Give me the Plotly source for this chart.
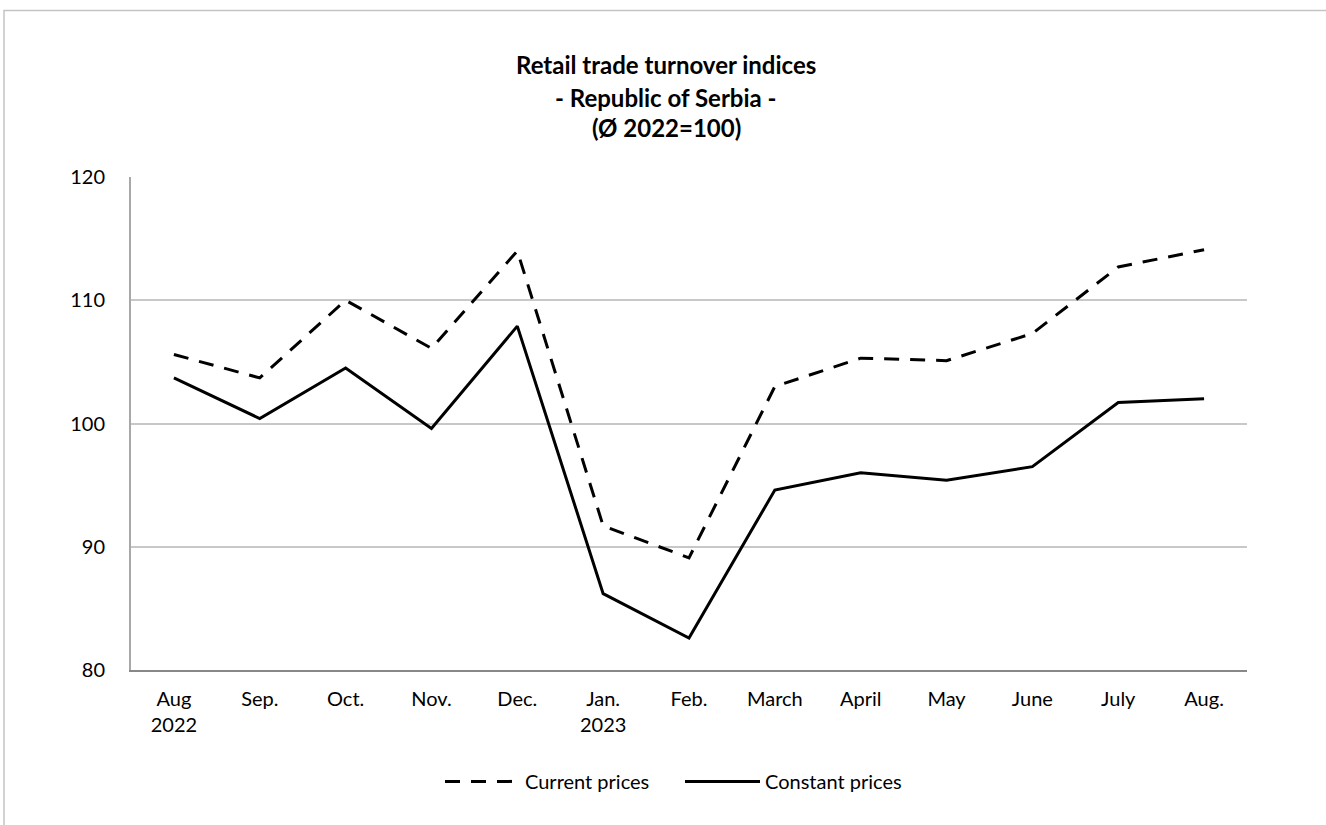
import plotly.graph_objects as go

months = ["Aug<br>2022", "Sep.", "Oct.", "Nov.", "Dec.", "Jan.<br>2023", "Feb.",
          "March", "April", "May", "June", "July", "Aug."]
current_prices = [105.6, 103.7, 110.0, 106.1, 114.0, 91.7, 89.1,
                  103.0, 105.3, 105.1, 107.3, 112.7, 114.1]
constant_prices = [103.7, 100.4, 104.5, 99.6, 107.9, 86.2, 82.6,
                   94.6, 96.0, 95.4, 96.5, 101.7, 102.0]
title_lines = ["Retail trade turnover indices", "- Republic of Serbia -", "(Ø 2022=100)"]
y_ticks = [80, 90, 100, 110, 120]

FONT = "Lato, Carlito, Calibri, sans-serif"

fig = go.Figure()
fig.add_trace(go.Scatter(
    x=months, y=current_prices, mode="lines", name="Current prices",
    line=dict(color="black", width=3, dash="15px,11px"),
))
fig.add_trace(go.Scatter(
    x=months, y=constant_prices, mode="lines", name="Constant prices",
    line=dict(color="black", width=3),
))

# title lines (Excel-style generous line spacing)
for txt, py in zip(title_lines, [64, 97, 127]):
    fig.add_annotation(text="<b>%s</b>" % txt, x=0.4794, y=(670 - py) / 493.3,
                       xref="paper", yref="paper",
                       xanchor="center", yanchor="middle", showarrow=False,
                       font=dict(family=FONT, size=24, color="black"))

# outer chart frame
fig.add_shape(type="rect", xref="paper", yref="paper",
              x0=(4 - 131) / 1116, x1=(1340 - 131) / 1116,
              y0=(670 - 840) / 493.3, y1=(670 - 10) / 493.3,
              line=dict(color="#c4c4c4", width=1.5), fillcolor="rgba(0,0,0,0)", layer="below")

fig.update_layout(
    width=1326, height=825,
    margin=dict(l=131, r=79, t=177, b=155),
    paper_bgcolor="white", plot_bgcolor="white",
    font=dict(family=FONT, size=20, color="black"),
    showlegend=True,
    legend=dict(orientation="h", x=(440 - 131) / 1116, y=(670 - 781.5) / 493.3,
                xanchor="left", yanchor="middle",
                font=dict(family=FONT, size=20, color="black"), itemwidth=75,
                entrywidth=150, bgcolor="rgba(0,0,0,0)"),
)
fig.update_xaxes(
    type="category", showgrid=False, showline=True, linecolor="#888888", linewidth=2,
    ticks="", tickfont=dict(family=FONT, size=20, color="black"), ticklabelstandoff=10,
    range=[-0.5, len(months) - 0.5], fixedrange=True,
)
fig.update_yaxes(
    range=[80, 120], tickvals=y_ticks, showgrid=True, gridcolor="#c8c8c8", gridwidth=1.5,
    showline=True, linecolor="#a8a8a8", linewidth=2, ticks="", zeroline=False,
    tickfont=dict(family=FONT, size=20, color="black"), ticklabelstandoff=20,
    fixedrange=True,
)

fig.write_html("out.html", config={"displayModeBar": False},
               post_script="document.body.style.margin='0px';")
